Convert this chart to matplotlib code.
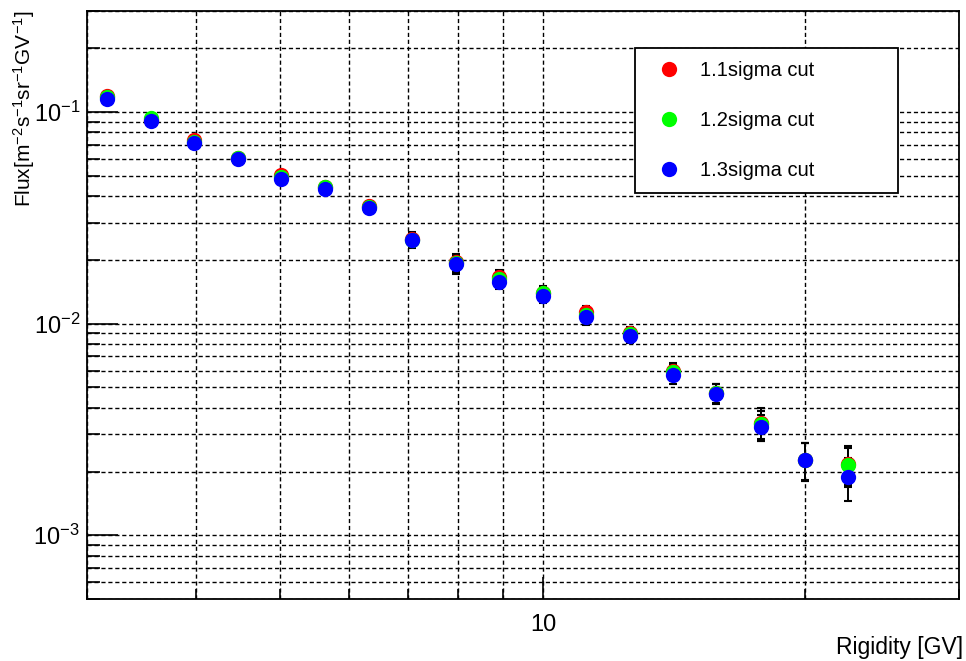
import numpy as np
import matplotlib
matplotlib.use('Agg')
import matplotlib.pyplot as plt
from matplotlib import ticker
from matplotlib.lines import Line2D

plt.rcParams['font.family'] = ['Liberation Sans', 'DejaVu Sans']
plt.rcParams['mathtext.fontset'] = 'custom'
plt.rcParams['mathtext.rm'] = 'Liberation Sans'
plt.rcParams['mathtext.it'] = 'Liberation Sans:italic'
plt.rcParams['mathtext.bf'] = 'Liberation Sans:bold'
plt.rcParams['mathtext.default'] = 'regular'

# rigidity bin centres [GV]
rigidity = [3.16, 3.55, 3.98, 4.47, 5.01, 5.62, 6.31, 7.08, 7.94,
            8.91, 10.0, 11.2, 12.6, 14.1, 15.8, 17.8, 20.0, 22.4]

# flux for the three cut widths
flux_11 = [0.1195, 0.0920, 0.0735, 0.0609, 0.0502, 0.0440, 0.0361, 0.0250, 0.0195,
           0.0166, 0.0140, 0.0113, 0.0090, 0.0060, 0.0047, 0.00340, 0.00228, 0.00218]
flux_12 = [0.1180, 0.0932, 0.0725, 0.0609, 0.0493, 0.0443, 0.0357, 0.0249, 0.0193,
           0.0163, 0.0139, 0.0110, 0.0089, 0.0059, 0.0047, 0.00335, 0.00226, 0.00214]
flux_13 = [0.1155, 0.0907, 0.0712, 0.0598, 0.0481, 0.0432, 0.0351, 0.0248, 0.0191,
           0.0158, 0.01355, 0.0107, 0.0087, 0.00569, 0.00466, 0.00324, 0.00226, 0.00188]

err_11 = [0.0030, 0.0025, 0.0020, 0.0017, 0.0015, 0.0013, 0.0012, 0.0020, 0.0019,
          0.0013, 0.0010, 0.0008, 0.0006, 0.00055, 0.0005, 0.0006, 0.00046, 0.00045]
err_12 = [0.0030, 0.0025, 0.0020, 0.0017, 0.0015, 0.0013, 0.0012, 0.0020, 0.0019,
          0.0013, 0.0010, 0.0008, 0.0006, 0.00055, 0.0005, 0.0005, 0.00046, 0.00045]
err_13 = [0.0030, 0.0025, 0.0020, 0.0017, 0.0015, 0.0013, 0.0012, 0.0020, 0.0019,
          0.0013, 0.0010, 0.0008, 0.0006, 0.0005, 0.0005, 0.00045, 0.00046, 0.00043]

labels = ['1.1sigma cut', '1.2sigma cut', '1.3sigma cut']
colors = ['#ff0000', '#00ff00', '#0000ff']

fig = plt.figure(figsize=(9.66, 6.61), dpi=100)
ax = fig.add_axes([87 / 966, 62 / 661, 872 / 966, 588 / 661])

# red first, blue last so blue sits on top
for flux, err, c in zip([flux_11, flux_12, flux_13], [err_11, err_12, err_13], colors):
    ax.errorbar(rigidity, flux, yerr=err, fmt='o', ms=11, mfc=c, mec='none',
                ecolor='black', elinewidth=1.4, capsize=3, capthick=1.5)

ax.set_xscale('log')
ax.set_yscale('log')
ax.set_xlim(3, 30)
ax.set_ylim(5e-4, 0.3)

ax.xaxis.set_major_locator(ticker.FixedLocator([10]))
ax.xaxis.set_major_formatter(ticker.FixedFormatter(['10']))
ax.xaxis.set_minor_locator(ticker.LogLocator(base=10, subs=np.arange(2, 10)))
ax.xaxis.set_minor_formatter(ticker.NullFormatter())
ax.yaxis.set_major_locator(ticker.LogLocator(base=10))
ax.yaxis.set_minor_locator(ticker.LogLocator(base=10, subs=np.arange(2, 10)))
ax.yaxis.set_minor_formatter(ticker.NullFormatter())

ax.grid(which='both', color='black', linestyle=(0, (3, 2)), linewidth=1.0)

ax.tick_params(axis='both', which='both', direction='in', top=False, right=False,
               width=1.2, labelsize=17)
ax.tick_params(axis='x', which='major', length=16, pad=11)
ax.tick_params(axis='x', which='minor', length=7.5)
ax.tick_params(axis='y', which='major', length=22, pad=5)
ax.tick_params(axis='y', which='minor', length=9.5)
for sp in ax.spines.values():
    sp.set_linewidth(1.3)

ax.set_xlabel('Rigidity [GV]', fontsize=16.5, loc='right', va='center')
ax.xaxis.set_label_coords(1.005, -0.082)
ax.set_ylabel('Flux[m$^{-2}$s$^{-1}$sr$^{-1}$GV$^{-1}$]', fontsize=15,
              loc='top', va='center')
ax.yaxis.set_label_coords(-0.072, 1.0)

handles = [Line2D([], [], ls='none', marker='o', ms=11, mfc=c, mec='none') for c in colors]
leg = ax.legend(handles, labels, loc='upper left', mode='expand',
                bbox_to_anchor=(0.628, 0.690, 0.302, 0.247), borderaxespad=0,
                fontsize=14.5, labelspacing=1.53, borderpad=0.65,
                handlelength=2.14, handletextpad=0.48, fancybox=False,
                framealpha=1, edgecolor='black')
leg.get_frame().set_linewidth(1.3)

fig.savefig('out.png', dpi=100)
